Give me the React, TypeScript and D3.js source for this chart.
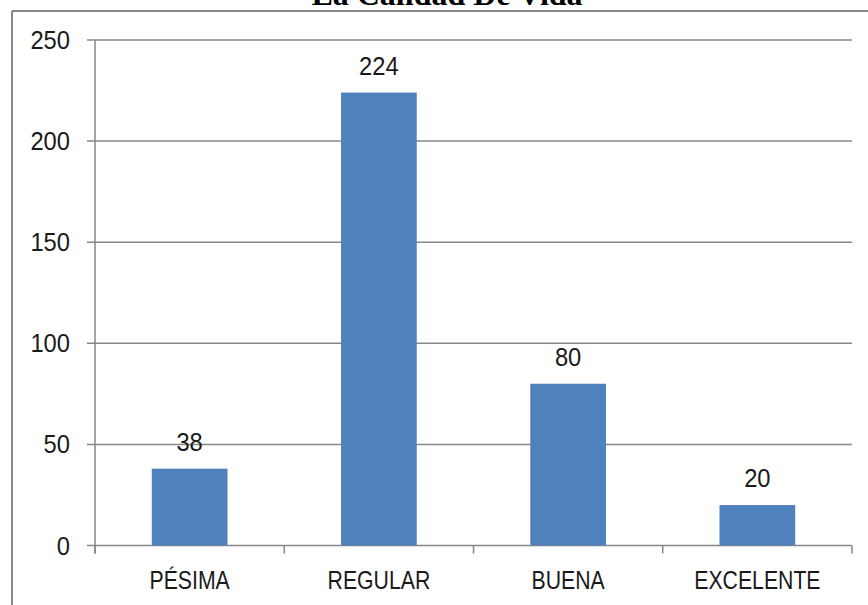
import React from "react";
import * as d3 from "d3";

const title = "La Calidad De Vida";
const categories = ["PÉSIMA", "REGULAR", "BUENA", "EXCELENTE"];
const values = [38, 224, 80, 20];
const yTicks = [0, 50, 100, 150, 200, 250];

const W = 868;
const H = 605;
const left = 95;
const right = 852;
const top = 40;
const bottom = 545.5;
const gray = "#878787";
const barColor = "#4F81BD";
const font = "'Liberation Sans', Arial, sans-serif";

function SText({ x, y, sx, anchor, children }: { x: number; y: number; sx: number; anchor: string; children: React.ReactNode }) {
  return (
    <g transform={`translate(${x},${y}) scale(${sx},1)`}>
      <text x={0} y={0} textAnchor={anchor} fontFamily={font} fontSize={25} fill="#1a1a1a">
        {children}
      </text>
    </g>
  );
}

export default function App() {
  const x = d3.scaleBand<string>().domain(categories).range([left, right]).paddingInner(0.6).paddingOuter(0.3);
  const xb = d3.scaleBand<string>().domain(categories).range([left, right]);
  const y = d3.scaleLinear().domain([0, 250]).range([bottom, top]);
  const boundaries = [...categories.map((c) => xb(c) as number), right];

  return (
    <svg width={W} height={H} style={{ position: "absolute", left: 0, top: 0, background: "#fff" }}>
      <rect x={0} y={0} width={W} height={H} fill="#fff" />
      <text x={447} y={5} textAnchor="middle" fontFamily="'Liberation Serif', 'Times New Roman', serif" fontWeight="bold" fontSize={32} fill="#000">
        {title}
      </text>
      <line x1={12} x2={W} y1={11} y2={11} stroke={gray} strokeWidth={2} />
      <line x1={12} x2={12} y1={11} y2={H} stroke={gray} strokeWidth={2} />
      {yTicks.map((t) => (
        <g key={t}>
          <line x1={87} x2={right} y1={y(t)} y2={y(t)} stroke={gray} strokeWidth={1.5} />
          <SText x={70} y={y(t) + 9} sx={0.95} anchor="end">
            {t}
          </SText>
        </g>
      ))}
      <line x1={left} x2={left} y1={top} y2={bottom + 8} stroke={gray} strokeWidth={1.5} />
      {boundaries.map((b, i) => (
        <line key={i} x1={b} x2={b} y1={bottom} y2={bottom + 8} stroke={gray} strokeWidth={1.5} />
      ))}
      {categories.map((c, i) => (
        <g key={c}>
          <rect x={x(c)} y={y(values[i])} width={x.bandwidth()} height={bottom - y(values[i])} fill={barColor} />
          <SText x={(x(c) as number) + x.bandwidth() / 2} y={y(values[i]) - 18} sx={0.95} anchor="middle">
            {values[i]}
          </SText>
          <SText x={(xb(c) as number) + xb.bandwidth() / 2} y={589} sx={0.85} anchor="middle">
            {c}
          </SText>
        </g>
      ))}
    </svg>
  );
}
